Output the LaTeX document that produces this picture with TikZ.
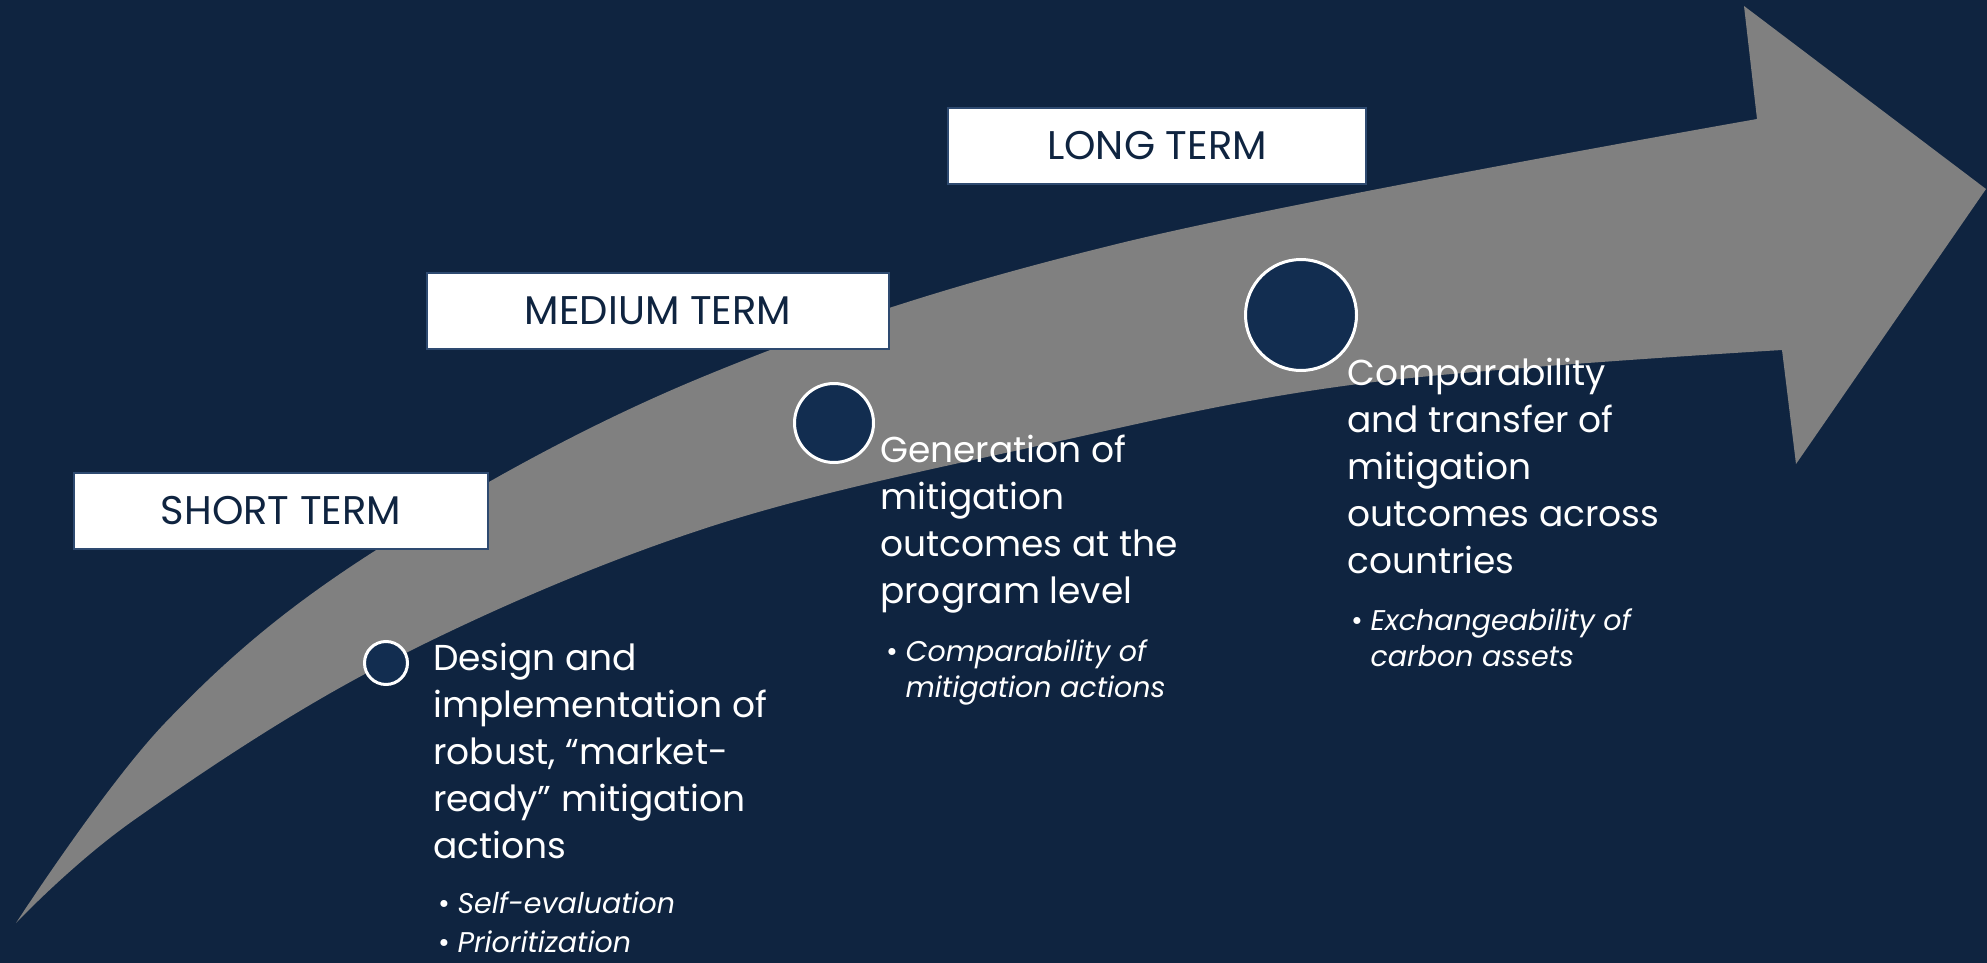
\documentclass[tikz,border=0pt]{standalone}
\usepackage{fontspec}
\setmainfont{Poppins}
\usetikzlibrary{positioning}
\definecolor{bgnavy}{HTML}{0F2440}
\definecolor{arrowgrey}{HTML}{808080}
\definecolor{dotnavy}{HTML}{122D50}
\definecolor{boxline}{HTML}{2E4A70}
\definecolor{termtext}{HTML}{0F2440}

\begin{document}
\begin{tikzpicture}[
		x=1pt, y=-1pt, % one unit per pixel, y downwards
		term/.style={
				draw=boxline,
				line width=1.5pt,
				fill=white,
				text=termtext,
				font=\fontsize{40}{44}\selectfont,
				minimum height=76pt,
				inner sep=0pt
			},
		dot/.style={
				draw=white,
				line width=3pt,
				circle,
				fill=dotnavy,
				inner sep=0pt
			},
		heading/.style={
				text=white,
				align=left,
				anchor=base west, % base = last line
				inner sep=0pt,
				font=\fontsize{36}{47}\selectfont
			},
		bullets/.style={
				text=white,
				align=left,
				anchor=base west,
				inner sep=0pt,
				font=\fontsize{28.5}{36}\selectfont
			}
	]
	% Background
	\fill[bgnavy] (0,0) rectangle (1987,963);
	\useasboundingbox (0,0) rectangle (1987,963);

	% Curved arrow
	\fill[arrowgrey] (16,923)
		-- plot[smooth, tension=0.6] coordinates {(16,923) (165,723) (370,554) (700,378) (1121,243) (1757,119)}
		-- (1744,6) -- (1986,189) -- (1796,464) -- (1782,350)
		-- plot[smooth, tension=0.6] coordinates {(1782,350) (1366,383) (1051,443) (700,530) (384,664) (134,820) (16,923)}
		-- cycle;

	% Term boxes
	\node[term, minimum width=414pt] (short_term) at (281,511) {SHORT TERM};
	\node[term, minimum width=462pt] (medium_term) at (658,311) {MEDIUM TERM};
	\node[term, minimum width=418pt] (long_term) at (1157,146) {LONG TERM};

	% Milestones
	\node[dot, minimum size=43pt] (dot_short) at (386,663) {};
	\node[dot, minimum size=79pt] (dot_medium) at (834,423) {};
	\node[dot, minimum size=111pt] (dot_long) at (1301,315) {};

	% Texts
	\node[heading] (text_short) at (433,858) {Design and\\implementation of\\robust, “market-\\ready” mitigation\\actions};
	\node[heading] (text_medium) at (880,603) {Generation of\\mitigation\\outcomes at the\\program level};
	\node[heading] (text_long) at (1347,573) {Comparability\\and transfer of\\mitigation\\outcomes across\\countries};

	\node[bullets] (list_short) at (438,952) {• \textit{Self-evaluation}\\[3pt]• \textit{Prioritization}};
	\node[bullets] (list_medium) at (886,697) {• \textit{Comparability of}\\\phantom{• }\textit{mitigation actions}};
	\node[bullets] (list_long) at (1351,666) {• \textit{Exchangeability of}\\\phantom{• }\textit{carbon assets}};
\end{tikzpicture}
\end{document}
